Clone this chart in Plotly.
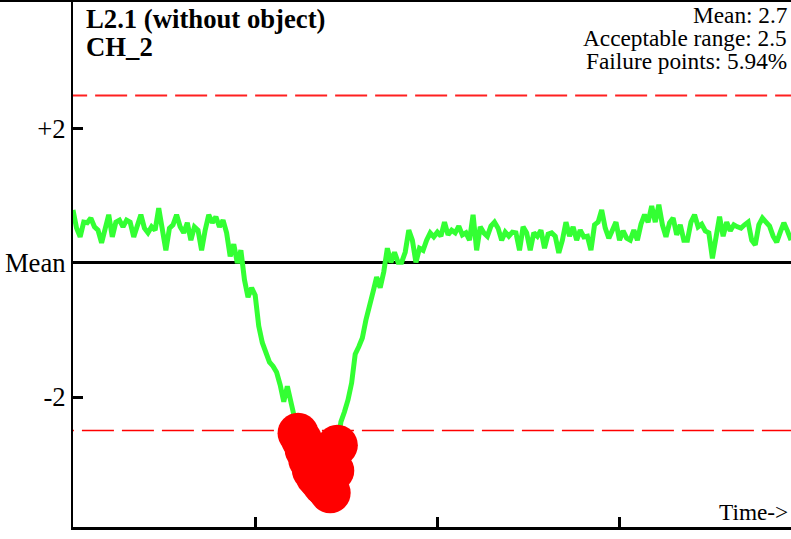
import plotly.graph_objects as go

# ---------------- data ----------------
TITLE_1 = "L2.1 (without object)"
TITLE_2 = "CH_2"
MEAN_VALUE = 2.7
ACCEPTABLE_RANGE = 2.5
FAILURE_PCT = "5.94%"
Y_TICK_VALS = [-2, 0, 2]
Y_TICK_TEXT = ["-2", "Mean", "+2"]
X_TICK_VALS = [0, 51, 102, 153]

# deviation from mean, one value per time step
deviation = [
    0.79, 0.52, 0.39, 0.61, 0.60, 0.67, 0.54, 0.49, 0.30, 0.54,
    0.72, 0.39, 0.61, 0.64, 0.54, 0.64, 0.61, 0.39, 0.54, 0.72,
    0.52, 0.45, 0.54, 0.49, 0.82, 0.54, 0.19, 0.52, 0.57, 0.72,
    0.54, 0.45, 0.60, 0.34, 0.54, 0.49, 0.19, 0.49, 0.72, 0.60,
    0.69, 0.54, 0.64, 0.45, 0.10, 0.28, 0.00, 0.19, -0.25, -0.51,
    -0.37, -0.48, -0.94, -1.19, -1.33, -1.48, -1.54, -1.63, -1.82, -2.07,
    -1.84, -2.07, -2.25, -2.54, -2.64, -2.79, -2.94, -3.09, -3.18, -3.24,
    -3.31, -3.36, -3.43, -3.10, -2.72, -2.37, -2.22, -2.04, -1.79, -1.36,
    -1.25, -1.12, -0.85, -0.67, -0.43, -0.21, -0.37, -0.13, 0.22, 0.01,
    0.16, 0.01, 0.01, 0.16, 0.49, 0.34, 0.01, 0.22, 0.19, 0.34,
    0.45, 0.39, 0.46, 0.40, 0.61, 0.42, 0.49, 0.45, 0.55, 0.42,
    0.45, 0.34, 0.72, 0.19, 0.54, 0.45, 0.40, 0.55, 0.61, 0.52,
    0.34, 0.46, 0.40, 0.46, 0.45, 0.19, 0.54, 0.45, 0.19, 0.45,
    0.40, 0.49, 0.22, 0.43, 0.45, 0.40, 0.15, 0.34, 0.61, 0.40,
    0.54, 0.34, 0.49, 0.39, 0.40, 0.19, 0.57, 0.61, 0.79, 0.52,
    0.37, 0.49, 0.61, 0.34, 0.48, 0.37, 0.34, 0.49, 0.34, 0.58,
    0.72, 0.61, 0.85, 0.61, 0.87, 0.57, 0.39, 0.60, 0.67, 0.42,
    0.57, 0.34, 0.34, 0.61, 0.72, 0.54, 0.58, 0.48, 0.45, 0.07,
    0.37, 0.69, 0.40, 0.61, 0.48, 0.57, 0.54, 0.52, 0.57, 0.61,
    0.34, 0.27, 0.57, 0.67, 0.61, 0.55, 0.40, 0.31, 0.46, 0.60,
    0.48, 0.34,
]
time_idx = list(range(len(deviation)))

fail_x = [t for t, v in zip(time_idx, deviation) if abs(v) > ACCEPTABLE_RANGE]
fail_y = [v for v in deviation if abs(v) > ACCEPTABLE_RANGE]

# ---------------- figure ----------------
W, H = 791, 539
ML, MR, MT, MB = 73, 0, 1, 12
PW, PH = W - ML - MR, H - MT - MB
SERIF = "Liberation Serif"


def px_x(px):
    return (px - ML) / PW


def px_y(py):
    return 1 - (py - MT) / PH


fig = go.Figure()

x_end = time_idx[-1]
# acceptable-range dashed limits (start offsets set dash phase)
fig.add_trace(go.Scatter(x=[-5.0, x_end], y=[ACCEPTABLE_RANGE] * 2, mode="lines",
                         line=dict(color="#ff2020", width=1.8, dash="32px,8px"),
                         hoverinfo="skip", showlegend=False))
fig.add_trace(go.Scatter(x=[-8.7, x_end], y=[-ACCEPTABLE_RANGE] * 2, mode="lines",
                         line=dict(color="#ff0000", width=1.5, dash="32px,8px"),
                         hoverinfo="skip", showlegend=False))

fig.add_trace(go.Scatter(x=time_idx, y=deviation, mode="lines",
                         line=dict(color="#33ff33", width=5),
                         showlegend=False))
fig.add_trace(go.Scatter(x=fail_x, y=fail_y, mode="markers",
                         marker=dict(color="#ff0000", size=41, line=dict(width=0)),
                         cliponaxis=False, showlegend=False))

fig.update_layout(
    width=W, height=H,
    margin=dict(l=ML, r=MR, t=MT, b=MB, pad=0),
    paper_bgcolor="white", plot_bgcolor="white",
    showlegend=False,
    xaxis=dict(range=[0, x_end], showgrid=False, zeroline=False,
               showline=True, linecolor="black", linewidth=3,
               ticks="inside", ticklen=10, tickwidth=3, tickcolor="black",
               tickvals=X_TICK_VALS, showticklabels=False),
    yaxis=dict(range=[-3.94, 3.91], showgrid=False,
               zeroline=True, zerolinecolor="black", zerolinewidth=3,
               showline=True, linecolor="black", linewidth=2,
               ticks="inside", ticklen=10, tickwidth=3, tickcolor="black",
               tickvals=Y_TICK_VALS, ticktext=Y_TICK_TEXT,
               tickfont=dict(family=SERIF, size=26.7, color="black")),
    shapes=[dict(type="line", xref="paper", yref="paper",
                 x0=px_x(0), x1=1, y0=px_y(1), y1=px_y(1),
                 line=dict(color="black", width=2))],
)

ann = []
ann.append(dict(text="<b>" + TITLE_1 + "</b>", x=px_x(85), y=px_y(3),
                xanchor="left", yanchor="top",
                font=dict(family=SERIF, size=26.7, color="black")))
ann.append(dict(text="<b>" + TITLE_2 + "</b>", x=px_x(85), y=px_y(31),
                xanchor="left", yanchor="top",
                font=dict(family=SERIF, size=26.7, color="black")))
right_lines = [f"Mean: {MEAN_VALUE}", f"Acceptable range: {ACCEPTABLE_RANGE}",
               f"Failure points: {FAILURE_PCT}"]
for k, t in enumerate(right_lines):
    ann.append(dict(text=t, x=px_x(788), y=px_y(1 + 23 * k),
                    xanchor="right", yanchor="top",
                    font=dict(family=SERIF, size=23.3, color="black")))
ann.append(dict(text="Time->", x=px_x(789), y=px_y(498),
                xanchor="right", yanchor="top",
                font=dict(family=SERIF, size=23.3, color="black")))
for a in ann:
    a.update(xref="paper", yref="paper", showarrow=False, borderpad=0)
fig.update_layout(annotations=ann)

fig.write_html("out.html", config={"displayModeBar": False},
               post_script="document.body.style.margin='0';document.body.style.padding='0';")
